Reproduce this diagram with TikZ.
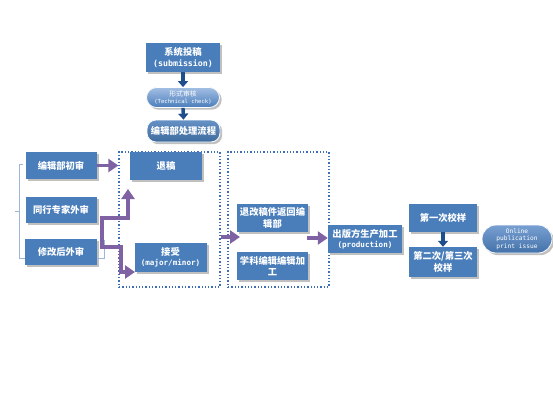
\documentclass[tikz,border=0pt]{standalone}
\usepackage{fontspec}
\setmainfont{Noto Sans CJK SC}
\setmonofont{DejaVu Sans Mono}
\usetikzlibrary{arrows.meta,shadows,positioning}
\definecolor{boxblue}{HTML}{4A7EBB}
\definecolor{boxlight}{HTML}{8CAEDC}
\definecolor{darkarr}{HTML}{1F4E8C}
\definecolor{purp}{HTML}{7E62A3}
\definecolor{dotblue}{HTML}{3D6DB5}
\definecolor{brk}{HTML}{9FB6D8}
\tikzset{
  rbox/.style={fill=boxblue, text=white, align=center, inner sep=1pt,
    font=\bfseries\fontsize{9.3}{11.5}\selectfont,
    drop shadow={shadow xshift=2.2pt, shadow yshift=-2.2pt, fill=black!45, opacity=0.55}},
  pill/.style={rbox, rounded corners=9pt, draw=white, line width=0.8pt,
    top color=boxlight, bottom color=boxblue},
  dbox/.style={draw=dotblue, dotted, line width=1.3pt, inner sep=0pt},
  parr/.style={draw=purp, line width=3.8pt, -{Triangle[length=10pt,width=13pt]}},
  barr/.style={draw=darkarr, line width=3.4pt, -{Triangle[length=6pt,width=10pt]}},
  brack/.style={draw=brk, line width=0.8pt},
}
\begin{document}
\begin{tikzpicture}[x=1pt,y=-1pt]
\useasboundingbox (0,0) rectangle (553,415);
% dotted groups
\node[dbox, minimum width=101pt, minimum height=135pt] (d1) at (169.5,219.5) {};
\node[dbox, minimum width=101pt, minimum height=135pt] (d2) at (278.5,219.5) {};
% top column
\node[rbox, minimum width=74pt, minimum height=29pt] (sub) at (183,57.5)
  {系统投稿\\[-1pt]{\ttfamily\bfseries\fontsize{8.3}{10}\selectfont (submission)}};
\node[pill, rounded corners=10pt, minimum width=73pt, minimum height=20pt,
  font=\fontsize{6.8}{8}\selectfont, top color=boxlight!80!white] (tech) at (183,97.5)
  {形式审核\\[-1.5pt]{\ttfamily\fontsize{5.6}{6.5}\selectfont (Technical check)}};
\node[pill, minimum width=73pt, minimum height=22pt, top color=boxblue!85!white, bottom color=boxblue!85!black] (proc) at (183.5,131) {编辑部处理流程};
% left column
\node[rbox, minimum width=71pt, minimum height=27pt] (a1) at (61,165.5) {编辑部初审};
\node[rbox, minimum width=71pt, minimum height=26pt] (a2) at (61,209.5) {同行专家外审};
\node[rbox, minimum width=72pt, minimum height=26pt] (a3) at (61,252) {修改后外审};
% group 1
\node[rbox, minimum width=72pt, minimum height=28pt] (rej) at (166,166) {退稿};
\node[rbox, minimum width=72pt, minimum height=29pt] (acc) at (170.5,257.5)
  {接受\\[-1pt]{\ttfamily\bfseries\fontsize{7.6}{9}\selectfont (major/minor)}};
% group 2
\node[rbox, minimum width=71pt, minimum height=28pt] (ret) at (272.5,218) {退改稿件返回编\\辑部};
\node[rbox, minimum width=71pt, minimum height=28pt] (edt) at (272.5,266) {学科编辑编辑加\\工};
% production
\node[rbox, minimum width=74pt, minimum height=28pt] (prod) at (365,239)
  {出版方生产加工\\[-1pt]{\ttfamily\bfseries\fontsize{7.6}{9}\selectfont (production)}};
\node[rbox, minimum width=68pt, minimum height=28pt] (p1) at (443,218) {第一次校样};
\node[rbox, minimum width=68pt, minimum height=30pt] (p2) at (443,262) {第二次/第三次\\校样};
\node[pill, rounded corners=14pt, minimum width=70pt, minimum height=28pt,
  font=\ttfamily\fontsize{6.2}{7.4}\selectfont, top color=boxlight!70!boxblue, bottom color=boxblue!90!black] (onl) at (517,239)
  {Online\\publication\\print issue};
% bracket lines
\coordinate (bt) at (23,164);
\coordinate (bb) at (25,258);
\coordinate (bm) at (15,211);
\draw[brack] (bt) -- (19,164) -- (19,258) -- (bb);
\draw[brack] (bm) -- (19,211);
\coordinate (rb1) at (104,240);
\coordinate (rb2) at (97,258);
\draw[brack] (rb1) -- (104,258) -- (rb2);
% dark arrows
\draw[barr] (sub.south) -- (tech.north);
\draw[barr] (tech.south) -- (proc.north);
\draw[barr] (p1.south) -- (p2.north);
% purple arrows
\coordinate (j) at (102,218);
\coordinate (ja) at (128,218);
\coordinate (jt) at (128,189);
\coordinate (jb1) at (102,247);
\coordinate (jb2) at (121,247);
\coordinate (jb3) at (121,272);
\coordinate (jt2) at (135,272);
\draw[parr] (a1.east) -- (a1.east -| d1.west);
\draw[parr] (j) -- (ja) -- (jt);
\draw[parr, line join=miter] (ja) -- (j) -- (jb1) -- (jb2) -- (jb3) -- (jt2);
\coordinate (m1) at (240,237);
\draw[parr] (d1.east |- m1) -- (m1);
\coordinate (m2) at (307,238);
\draw[parr] (m2) -- (m2 -| prod.west);
\end{tikzpicture}
\end{document}
